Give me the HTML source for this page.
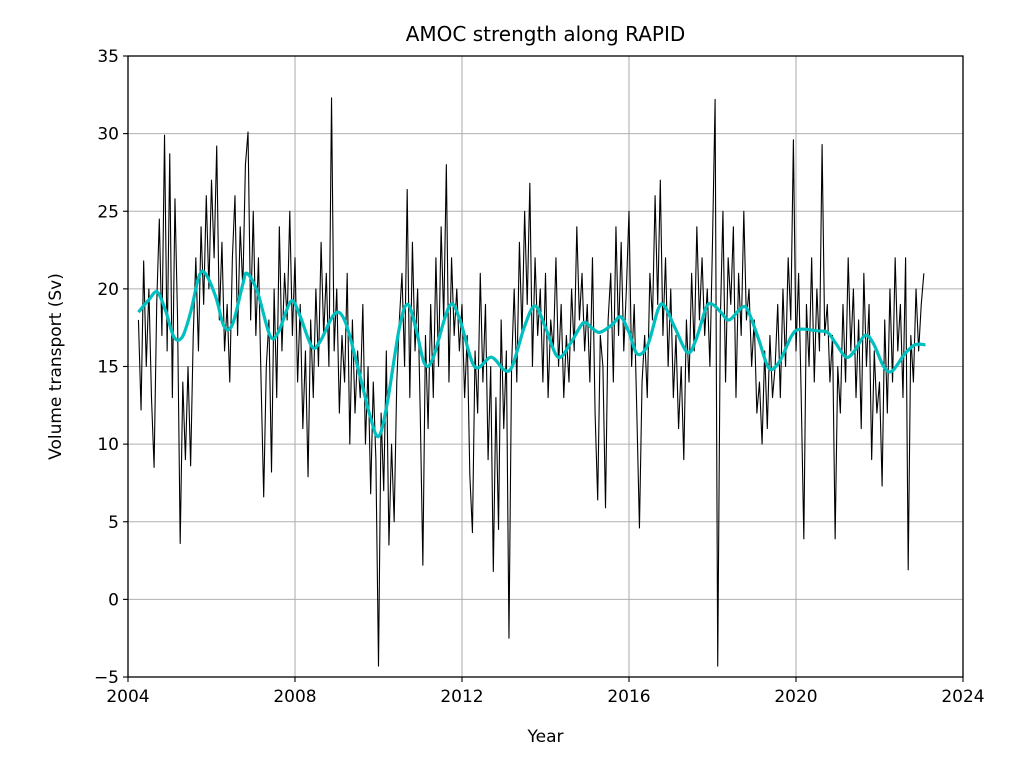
<!DOCTYPE html>
<html><head><meta charset="utf-8"><style>
body{margin:0;background:#fff;}
svg{display:block;font-family:"DejaVu Sans","Liberation Sans",sans-serif;}
</style></head><body>
<svg id="chart" width="1027" height="764" viewBox="0 0 1027 764"></svg>
<script>
// ---- data ----
const rawStart = 2004.25;
const rawStep = 1/16;
const rawValues = [
18,12.2,21.8,15,20,13,8.5,19,24.5,17,29.9,16,
28.7,13,25.8,18,3.6,14,9,15,8.6,17,22,16,24,19,26,20,
27,22,29.2,18,23,16,19,14,22,26,17,24,20,28,30.1,18,
25,17,22,14,6.6,15,18,8.2,20,13,24,16,21,18,25,17,
22,14,19,11,16,7.9,18,13,20,15,23,17,21,15,32.3,16,
20,12,17,14,21,10,18,12,16,13,19,10,15,6.8,14,9,
-4.3,12,7,16,3.5,10,5,14,18,21,15,26.4,13,23,16,20,
12,2.2,17,11,19,13,22,15,24,18,28,14,22,17,20,16,
19,13,17,8,4.3,16,12,21,14,19,9,15,1.8,13,4.5,18,
11,16,-2.5,15,20,14,23,17,25,19,26.8,15,22,17,20,14,
21,13,18,16,22,15,19,13,17,14,20,16,24,18,21,16,
19,14,22,12,6.4,17,15,5.9,18,21,14,24,17,23,16,20,
25,15,19,12,4.6,14,17,13,21,18,26,19,27,17,22,15,
20,13,17,11,15,9,18,14,21,16,24,18,22,17,20,15,
23,32.2,-4.3,18,25,14,22,19,24,13,21,17,25,18,20,15,
18,12,14,10,16,11,17,13,15,19,13,20,15,22,18,29.6,
16,21,13,3.9,19,15,22,14,20,16,29.3,17,19,14,17,3.9,
15,12,19,14,22,16,20,13,18,11,21,15,19,9,16,12,
14,7.3,18,12,20,14,22,16,19,13,22,1.9,17,14,20,16,
19,21
];
const smoothYears = [2004.25,2004.5,2004.7,2004.9,2005.1,2005.3,2005.5,2005.7,2005.85,2006.1,2006.3,2006.5,2006.75,2006.85,2007.1,2007.4,2007.6,2007.9,2008.1,2008.4,2008.6,2008.95,2009.2,2009.5,2009.8,2010.0,2010.2,2010.5,2010.7,2010.9,2011.1,2011.3,2011.7,2011.95,2012.3,2012.7,2013.0,2013.2,2013.5,2013.75,2014.0,2014.3,2014.6,2014.9,2015.1,2015.3,2015.6,2015.8,2016.0,2016.2,2016.45,2016.7,2016.85,2017.1,2017.4,2017.6,2017.85,2018.0,2018.2,2018.4,2018.7,2018.85,2019.1,2019.35,2019.6,2019.9,2020.1,2020.5,2020.75,2020.95,2021.2,2021.4,2021.65,2021.85,2022.1,2022.3,2022.6,2022.85,2023.1];
const smoothValues = [18.5,19.3,19.8,18.6,16.9,16.9,18.5,20.8,21.0,19.5,17.6,17.7,20.3,21.0,19.8,17.0,17.2,19.2,18.4,16.3,16.6,18.4,17.9,15.0,11.8,10.5,12.5,17.5,19.0,17.4,15.2,15.5,18.9,18.0,15.0,15.6,14.8,15.0,17.6,18.9,17.5,15.6,16.5,17.8,17.5,17.2,17.7,18.2,17.2,15.8,16.4,18.7,18.9,17.5,15.9,16.7,18.8,19.0,18.5,18.0,18.8,18.6,16.8,14.9,15.3,17.0,17.4,17.3,17.2,16.5,15.6,16.0,17.0,16.5,15.0,14.7,15.8,16.4,16.4];
const xTicks = [2004,2008,2012,2016,2020,2024];
const yTicks = [-5,0,5,10,15,20,25,30,35];

// ---- axes ----
const L=128,R=963,T=56,B=677;
const X=v=>L+(v-2004)/20*(R-L);
const Y=v=>B-(v+5)/40*(B-T);
const NS='http://www.w3.org/2000/svg';
const svg=document.getElementById('chart');
function mk(tag,attrs,parent){const e=document.createElementNS(NS,tag);for(const k in attrs)e.setAttribute(k,attrs[k]);(parent||svg).appendChild(e);return e;}

const grid=mk('g',{});


xTicks.forEach(t=>{const l=mk('line',{x1:X(t),x2:X(t),y1:T,y2:B,stroke:'#b0b0b0','stroke-width':1.1},grid);

});
yTicks.forEach(t=>{const l=mk('line',{x1:L,x2:R,y1:Y(t),y2:Y(t),stroke:'#b0b0b0','stroke-width':1.1},grid);

});

// raw series
let d='';
rawValues.forEach((v,i)=>{d+=(i?'L':'M')+X(rawStart+i*rawStep).toFixed(2)+','+Y(v).toFixed(2);});
const raw=mk('path',{d:d,fill:'none',stroke:'#000','stroke-width':1.1,'stroke-linejoin':'round'});



// smooth series (Catmull-Rom)
const pts=smoothYears.map((y,i)=>[X(y),Y(smoothValues[i])]);
let s='M'+pts[0][0]+','+pts[0][1];
for(let i=0;i<pts.length-1;i++){const p0=pts[Math.max(0,i-1)],p1=pts[i],p2=pts[i+1],p3=pts[Math.min(pts.length-1,i+2)];
s+='C'+(p1[0]+(p2[0]-p0[0])/6)+','+(p1[1]+(p2[1]-p0[1])/6)+' '+(p2[0]-(p3[0]-p1[0])/6)+','+(p2[1]-(p3[1]-p1[1])/6)+' '+p2[0]+','+p2[1];}
const sm=mk('path',{d:s,fill:'none',stroke:'#00bfbf','stroke-width':3.2,'stroke-linejoin':'round'});



// frame
const fr=mk('rect',{x:L,y:T,width:R-L,height:B-T,fill:'none',stroke:'#000','stroke-width':1.3});



xTicks.forEach(t=>{const l=mk('line',{x1:X(t),x2:X(t),y1:B,y2:B+5,stroke:'#000','stroke-width':1.1});


const tx=mk('text',{x:X(t),y:B+25,'font-size':17,'text-anchor':'middle'});tx.textContent=t;

});
yTicks.forEach(t=>{const l=mk('line',{x1:L-5,x2:L,y1:Y(t),y2:Y(t),stroke:'#000','stroke-width':1.1});


const tx=mk('text',{x:L-9,y:Y(t)+6,'font-size':17,'text-anchor':'end'});tx.textContent=t<0?'\u22125':t;

});

const title=mk('text',{x:(L+R)/2,y:41,'font-size':20,'text-anchor':'middle'});title.textContent='AMOC strength along RAPID';


const xl=mk('text',{x:(L+R)/2,y:742,'font-size':17,'text-anchor':'middle'});xl.textContent='Year';


const yl=mk('text',{x:0,y:0,'font-size':17,'text-anchor':'middle',transform:'translate(61,'+((T+B)/2)+') rotate(-90)'});yl.textContent='Volume transport (Sv)';


</script>
</body></html>
